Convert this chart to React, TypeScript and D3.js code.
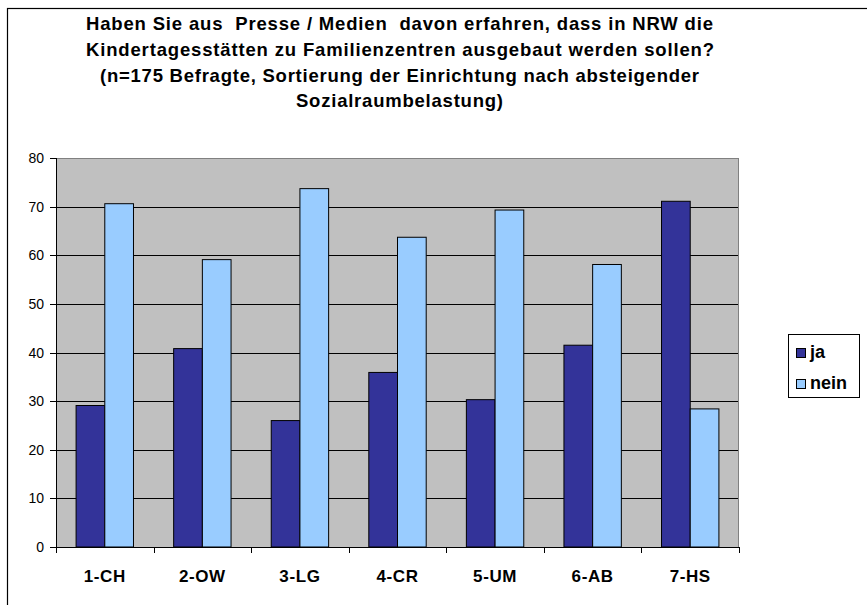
import React from "react";
import * as d3 from "d3";

const categories = ["1-CH", "2-OW", "3-LG", "4-CR", "5-UM", "6-AB", "7-HS"];
const seriesNames = ["ja", "nein"];
const jaValues = [29.1, 40.8, 26.0, 35.9, 30.3, 41.5, 71.1];
const neinValues = [70.6, 59.1, 73.7, 63.7, 69.3, 58.1, 28.4];
const seriesColors = ["#333399", "#99CCFF"];
const yTicks = [0, 10, 20, 30, 40, 50, 60, 70, 80];
const titleLines = [
  "Haben Sie aus  Presse / Medien  davon erfahren, dass in NRW die",
  "Kindertagesstätten zu Familienzentren ausgebaut werden sollen?",
  "(n=175 Befragte, Sortierung der Einrichtung nach absteigender",
  "Sozialraumbelastung)",
];
const titleLayout = [
  { x: 86, y: 30, w: 627 },
  { x: 86, y: 56, w: 628 },
  { x: 100, y: 82, w: 599 },
  { x: 296, y: 107, w: 207 },
];

const W = 867;
const H = 605;
const plot = { left: 56, top: 158, right: 739, bottom: 547 };
const FONT = "'Liberation Sans', Arial, sans-serif";

export default function App() {
  const x0 = d3.scaleBand<string>().domain(categories).range([plot.left, plot.right]).padding(0);
  const x1 = d3
    .scaleBand<string>()
    .domain(seriesNames)
    .range([0, x0.bandwidth()])
    .paddingInner(0)
    .paddingOuter(0.7);
  const y = d3.scaleLinear().domain([0, 80]).range([plot.bottom, plot.top]);
  const seriesValues = [jaValues, neinValues];
  const boundaries = categories.map((c) => x0(c)!).concat([plot.right]);

  return (
    <svg
      width={W}
      height={H}
      style={{ position: "absolute", left: 0, top: 0, background: "#fff" }}
      fontFamily={FONT}
    >
      <rect x={7.5} y={8.5} width={900} height={700} fill="#fff" stroke="#000" strokeWidth={1.2} />
      {titleLines.map((t, i) => (
        <text
          key={i}
          x={titleLayout[i].x}
          y={titleLayout[i].y}
          fontSize={18.5}
          fontWeight="bold"
          textLength={titleLayout[i].w}
          lengthAdjust="spacing"
          style={{ whiteSpace: "pre" }}
          fill="#000"
        >
          {t}
        </text>
      ))}
      <rect
        x={plot.left}
        y={plot.top}
        width={plot.right - plot.left}
        height={plot.bottom - plot.top}
        fill="#C0C0C0"
      />
      {yTicks.slice(1).map((t) => (
        <line
          key={t}
          x1={plot.left}
          x2={plot.right}
          y1={Math.round(y(t)) + 0.5}
          y2={Math.round(y(t)) + 0.5}
          stroke="#000"
          strokeWidth={1}
        />
      ))}
      <rect
        x={plot.left + 0.5}
        y={plot.top + 0.5}
        width={plot.right - plot.left - 1}
        height={plot.bottom - plot.top}
        fill="none"
        stroke="#808080"
        strokeWidth={1}
      />
      {categories.map((c, ci) =>
        seriesNames.map((s, si) => {
          const v = seriesValues[si][ci];
          const bx = x0(c)! + x1(s)!;
          return (
            <rect
              key={c + s}
              x={bx}
              y={y(v)}
              width={x1.bandwidth()}
              height={y(0) - y(v)}
              fill={seriesColors[si]}
              stroke="#000"
              strokeWidth={1}
            />
          );
        })
      )}
      <line x1={plot.left} x2={plot.right} y1={plot.bottom + 0.5} y2={plot.bottom + 0.5} stroke="#000" />
      <line x1={plot.left + 0.5} x2={plot.left + 0.5} y1={plot.top} y2={plot.bottom} stroke="#000" />
      {yTicks.map((t) => (
        <g key={t}>
          <line x1={plot.left - 6} x2={plot.left} y1={Math.round(y(t)) + 0.5} y2={Math.round(y(t)) + 0.5} stroke="#000" />
          <text x={44} y={y(t)} textAnchor="end" dominantBaseline="central" fontSize={14} fill="#000">
            {t}
          </text>
        </g>
      ))}
      {boundaries.map((b, i) => (
        <line key={i} x1={Math.round(b) + 0.5} x2={Math.round(b) + 0.5} y1={plot.bottom} y2={plot.bottom + 6} stroke="#000" />
      ))}
      {categories.map((c) => (
        <text
          key={c}
          x={x0(c)! + x0.bandwidth() / 2}
          y={582}
          textAnchor="middle"
          fontSize={17}
          letterSpacing={0.6}
          fontWeight="bold"
          fill="#000"
        >
          {c}
        </text>
      ))}
      <rect x={788.5} y={334.5} width={71} height={63} fill="#fff" stroke="#000" />
      {seriesNames.map((s, i) => (
        <g key={s}>
          <rect x={796.5} y={348.5 + i * 31} width={9} height={9} fill={seriesColors[i]} stroke="#000" />
          <text x={810} y={357.5 + i * 31} fontSize={18} fontWeight="bold" fill="#000">
            {s}
          </text>
        </g>
      ))}
    </svg>
  );
}
